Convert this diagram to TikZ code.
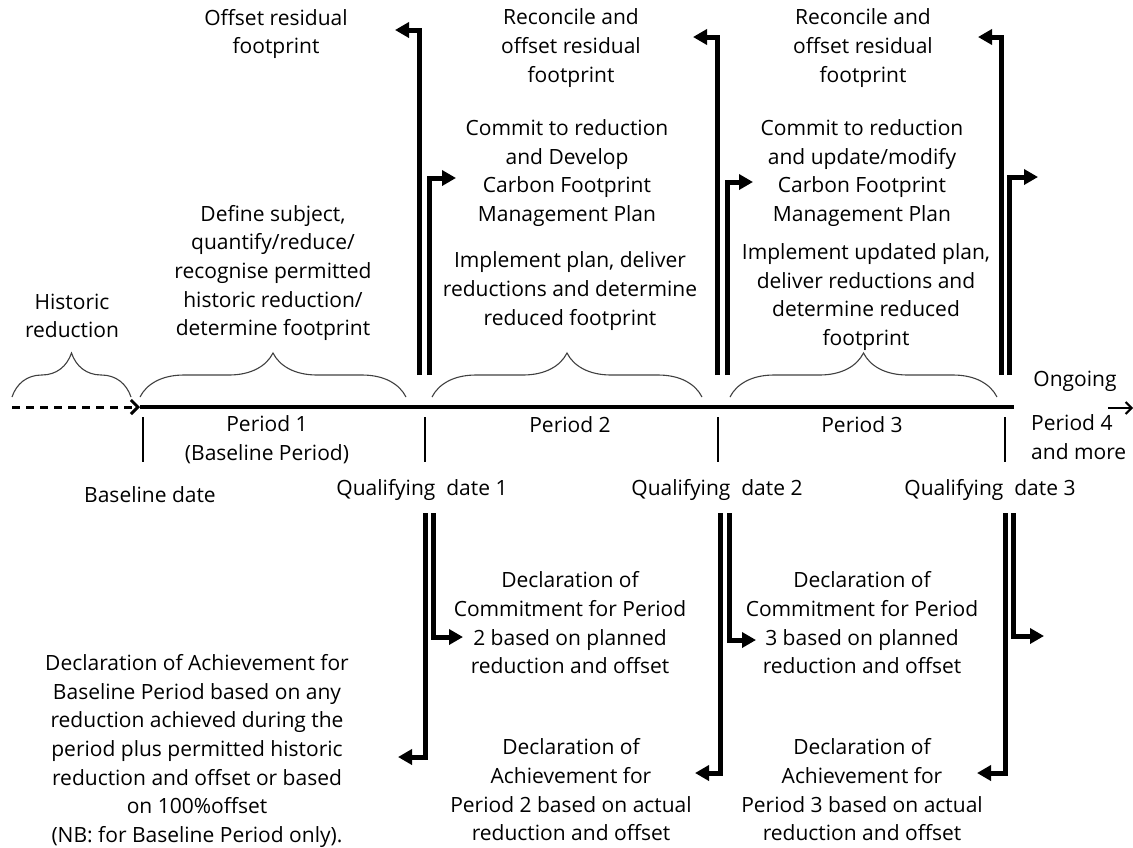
\documentclass[tikz,border=0pt]{standalone}
\usepackage{fontspec}
\setmainfont{Open Sans}
\usetikzlibrary{arrows.meta,decorations.pathreplacing}

\begin{document}
\begin{tikzpicture}[x=1pt, y=-1pt,
  lbl/.style={align=center, inner sep=0pt, font=\fontsize{21}{28.7}\selectfont},
  bracer/.style={draw=black!75, line width=1.1pt, decorate, decoration={brace, amplitude=44pt}},
  pipe/.style={line width=5pt, -{Triangle[length=14pt, width=15pt]}},
  tick/.style={line width=1.3pt}
]
  \useasboundingbox (0,0) rectangle (1133,847);
  % timeline
  \coordinate (h0) at (12,407);
  \coordinate (t0) at (140,407);
  \coordinate (t1) at (1014,407);
  \draw[line width=3pt, dash pattern=on 8pt off 6pt, -{Straight Barb[length=7pt, width=14pt]}] (h0) -- (t0);
  \draw[line width=4pt] (t0) -- (t1);
  \foreach \x/\n in {143/a, 425/b, 718/c, 1005/d}
    \draw[tick] (\x,417) coordinate (\n1) -- (\x,462) coordinate (\n2);
  \coordinate (e0) at (1108,408);
  \coordinate (e1) at (1133,408);
  \draw[line width=2pt, -{Straight Barb[length=6pt, width=12pt]}] (e0) -- (e1);
  % braces
  \draw[bracer] (12,397) -- (131,397);
  \draw[bracer] (140,397) -- (406,397);
  \draw[bracer] (432,397) -- (702,397);
  \draw[bracer] (730,397) -- (997,397);
  % thick arrows above
  \draw[pipe] (419,375) coordinate (q1a) |- (395,30) coordinate (o1);
  \draw[pipe] (429,375) coordinate (q1b) |- (456,178) coordinate (c2);
  \draw[pipe] (717,375) coordinate (q2a) |- (693,37) coordinate (o2);
  \draw[pipe] (727,375) coordinate (q2b) |- (753,182) coordinate (c3);
  \draw[pipe] (1001,375) coordinate (q3a) |- (978,37) coordinate (o3);
  \draw[pipe] (1009,375) coordinate (q3b) |- (1038,177) coordinate (c4);
  % thick arrows below
  \draw[pipe] (425,513) coordinate (p1a) |- (398,757) coordinate (r1);
  \draw[pipe] (433,513) coordinate (p1b) |- (463,637) coordinate (m2);
  \draw[pipe] (720,513) coordinate (p2a) |- (695,773) coordinate (r2);
  \draw[pipe] (729,513) coordinate (p2b) |- (756,640) coordinate (m3);
  \draw[pipe] (1005,513) coordinate (p3a) |- (977,773) coordinate (r3);
  \draw[pipe] (1013,513) coordinate (p3b) |- (1044,636) coordinate (m4);
  % texts above the line
  \node[lbl] (hist) at (72,316) {Historic\\reduction};
  \node[lbl] (def) at (273,273) {Define subject,\\quantify/reduce/\\recognise permitted\\historic reduction/\\determine footprint};
  \node[lbl] (off1) at (276,34) {Offset residual\\footprint};
  \node[lbl] (rec2) at (571,48) {Reconcile and\\offset residual\\footprint};
  \node[lbl] (com2) at (567,173) {Commit to reduction\\and Develop\\Carbon Footprint\\Management Plan};
  \node[lbl] (imp2) at (570,291) {Implement plan, deliver\\reductions and determine\\reduced footprint};
  \node[lbl] (rec3) at (863,48) {Reconcile and\\offset residual\\footprint};
  \node[lbl] (com3) at (862,173) {Commit to reduction\\and update/modify\\Carbon Footprint\\Management Plan};
  \node[lbl] (imp3) at (866,297) {Implement updated plan,\\deliver reductions and\\determine reduced\\footprint};
  \node[lbl] (ongo) at (1075,381) {Ongoing};
  % periods and dates
  \node[lbl] (per1) at (267,440) {Period 1\\(Baseline Period)};
  \node[lbl] (per2) at (570,425) {Period 2};
  \node[lbl] (per3) at (862,425) {Period 3};
  \node[lbl, align=left, anchor=west] (per4) at (1031,437) {Period 4\\and more};
  \node[lbl] (base) at (150,495) {Baseline date};
  \node[lbl] (qd1) at (422,490) {Qualifying\ \ date 1};
  \node[lbl] (qd2) at (717,490) {Qualifying\ \ date 2};
  \node[lbl] (qd3) at (990,490) {Qualifying\ \ date 3};
  % declarations
  \node[lbl] (dc2) at (570,623) {Declaration of\\Commitment for Period\\2 based on planned\\reduction and offset};
  \node[lbl] (dc3) at (862,623) {Declaration of\\Commitment for Period\\3 based on planned\\reduction and offset};
  \node[lbl] (da1) at (197,751) {Declaration of Achievement for\\Baseline Period based on any\\reduction achieved during the\\period plus permitted historic\\reduction and offset or based\\on 100\%offset\\(NB: for Baseline Period only).};
  \node[lbl] (da2) at (571,790) {Declaration of\\Achievement for\\Period 2 based on actual\\reduction and offset};
  \node[lbl] (da3) at (862,790) {Declaration of\\Achievement for\\Period 3 based on actual\\reduction and offset};
\end{tikzpicture}
\end{document}
